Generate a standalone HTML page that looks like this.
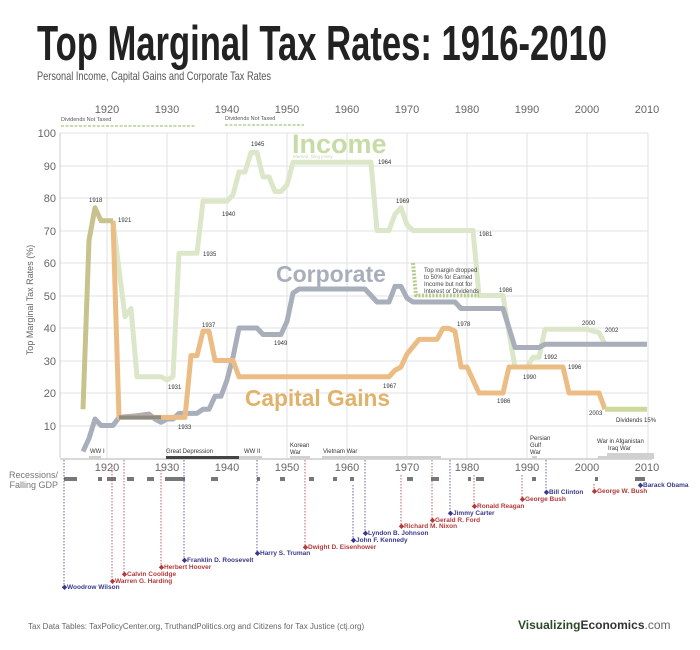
<!DOCTYPE html>
<html><head><meta charset="utf-8"><style>
body{margin:0;background:#fff}
svg{display:block;font-family:"Liberation Sans",sans-serif}
</style></head><body>
<svg width="700" height="650" viewBox="0 0 700 650" xmlns="http://www.w3.org/2000/svg">
<text x="37" y="60" font-family="Liberation Sans Narrow, Liberation Sans, sans-serif" font-weight="bold" font-size="49" fill="#222" textLength="570" lengthAdjust="spacingAndGlyphs">Top Marginal Tax Rates: 1916-2010</text>
<text x="37" y="80" font-family="Liberation Sans Narrow, Liberation Sans, sans-serif" font-size="12" fill="#555" textLength="234" lengthAdjust="spacingAndGlyphs">Personal Income, Capital Gains and Corporate Tax Rates</text>

<g stroke="#e2e2e2" stroke-width="1">
<line x1="60" y1="133" x2="648" y2="133"/><line x1="60" y1="166" x2="648" y2="166"/><line x1="60" y1="198" x2="648" y2="198"/><line x1="60" y1="231" x2="648" y2="231"/><line x1="60" y1="263" x2="648" y2="263"/><line x1="60" y1="296" x2="648" y2="296"/><line x1="60" y1="328" x2="648" y2="328"/><line x1="60" y1="361" x2="648" y2="361"/><line x1="60" y1="393" x2="648" y2="393"/><line x1="60" y1="426" x2="648" y2="426"/>
<line x1="107" y1="133" x2="107" y2="458"/><line x1="167" y1="133" x2="167" y2="458"/><line x1="227" y1="133" x2="227" y2="458"/><line x1="287" y1="133" x2="287" y2="458"/><line x1="347" y1="133" x2="347" y2="458"/><line x1="407" y1="133" x2="407" y2="458"/><line x1="467" y1="133" x2="467" y2="458"/><line x1="527" y1="133" x2="527" y2="458"/><line x1="587" y1="133" x2="587" y2="458"/><line x1="648" y1="133" x2="648" y2="458"/>
<line x1="60" y1="133" x2="60" y2="458" stroke="#ccc"/>
</g>
<line x1="60" y1="459" x2="652" y2="459" stroke="#ccc" stroke-width="1.5"/>

<g font-size="11" fill="#666" text-anchor="end">
<text x="56" y="137">100</text><text x="56" y="170">90</text><text x="56" y="202">80</text><text x="56" y="235">70</text><text x="56" y="267">60</text><text x="56" y="300">50</text><text x="56" y="332">40</text><text x="56" y="365">30</text><text x="56" y="397">20</text><text x="56" y="430">10</text>
</g>
<text transform="translate(33,300) rotate(-90)" font-size="9" fill="#666" text-anchor="middle">Top Marginal Tax Rates (%)</text>
<g font-size="11" fill="#666" text-anchor="middle">
<text x="107" y="113">1920</text><text x="167" y="113">1930</text><text x="227" y="113">1940</text><text x="287" y="113">1950</text><text x="347" y="113">1960</text><text x="407" y="113">1970</text><text x="467" y="113">1980</text><text x="527" y="113">1990</text><text x="587" y="113">2000</text><text x="647" y="113">2010</text>
<text x="107" y="471">1920</text><text x="167" y="471">1930</text><text x="227" y="471">1940</text><text x="287" y="471">1950</text><text x="347" y="471">1960</text><text x="407" y="471">1970</text><text x="467" y="471">1980</text><text x="527" y="471">1990</text><text x="587" y="471">2000</text><text x="647" y="471">2010</text>
</g>

<g font-size="5.5" fill="#555"><text x="61" y="121">Dividends Not Taxed</text><text x="225" y="120">Dividends Not Taxed</text></g>
<g stroke="#b9cf8f" stroke-width="1.5" stroke-dasharray="3,1.5"><line x1="61" y1="126" x2="196" y2="126"/><line x1="225" y1="125" x2="304" y2="125"/></g>

<g fill="none" stroke-linejoin="round" transform="translate(-11413,458) scale(6,-3.25)">
<polyline vector-effect="non-scaling-stroke" stroke="#dbe7c8" stroke-width="5" points="1921,73 1922,58 1923,43.5 1924,46 1925,25 1929,25 1930,24 1931,25 1932,63 1935,63 1936,79 1940,79 1941,81 1942,88 1943,88 1944,94 1945,94 1946,86.5 1947,86.5 1948,82 1949,82 1950,84 1951,91 1964,91 1965,70 1967,70 1968,75 1969,77 1970,71.75 1971,70 1981,70 1982,50 1986,50 1987,38.5 1988,28 1990,28 1991,31 1992,31 1993,39.6 2000,39.6 2001,39.1 2002,38.6 2003,35 2010,35"/>
<polyline vector-effect="non-scaling-stroke" stroke="#a9aebb" stroke-width="5" points="1916,2 1917,6 1918,12 1919,10 1921,10 1922,12.5 1925,13 1927,13.5 1928,12 1929,11 1930,12 1931,12 1932,13.75 1935,13.75 1936,15 1937,15 1938,19 1939,19 1940,24 1941,31 1942,40 1945,40 1946,38 1949,38 1950,42 1951,50.75 1952,52 1963,52 1964,50 1965,48 1967,48 1968,52.8 1969,52.8 1970,49.2 1971,48 1978,48 1979,46 1986,46 1987,40 1988,34 1992,34 1993,35 2010,35"/>
<polyline vector-effect="non-scaling-stroke" stroke="#ebbd85" stroke-width="5" points="1921,73 1922,12.5 1933,12.5 1934,31.5 1935,31.5 1936,39 1937,39 1938,30 1941,30 1942,25 1967,25 1968,27 1969,28 1970,32 1972,36.5 1975,36.5 1976,39.9 1977,39.9 1978,39 1979,28 1980,28 1982,20 1986,20 1987,28 1996,28 1997,20 2002,20 2003,15"/>
<polyline vector-effect="non-scaling-stroke" stroke="#cdd99a" stroke-width="5" points="2003,15 2010,15"/>
<polyline vector-effect="non-scaling-stroke" stroke="#c8c28d" stroke-width="5" points="1916,15 1917,67 1918,77 1919,73 1921,73"/>
<polyline vector-effect="non-scaling-stroke" stroke="#8a8d86" stroke-width="4" points="1922,12.5 1929,12.5"/>
<polyline vector-effect="non-scaling-stroke" stroke="#b5cc8f" stroke-width="4" stroke-dasharray="2,1.5" points="1971,60 1971.5,50 1982,50"/>
</g>
<text font-size="6" fill="#444"><tspan x="424" y="272">Top margin dropped</tspan><tspan x="424" y="279">to 50% for Earned</tspan><tspan x="424" y="286">Income but not for</tspan><tspan x="424" y="293">Interest or Dividends</tspan></text>

<text x="292" y="153" font-size="27" font-weight="bold" fill="#c6dba6">Income</text>
<text x="293" y="158" font-size="4.5" fill="#c6dba6">Married, filing jointly</text>
<text x="276" y="282" font-size="23" font-weight="bold" fill="#a9aebb">Corporate</text>
<text x="245" y="406" font-size="23" font-weight="bold" fill="#e0b26a" textLength="145" lengthAdjust="spacingAndGlyphs">Capital Gains</text>

<g font-size="6" fill="#333">
<text x="89" y="202">1918</text><text x="118" y="222">1921</text><text x="251" y="146">1945</text><text x="222" y="216">1940</text><text x="203" y="256">1935</text><text x="378" y="164">1964</text><text x="396" y="203">1969</text><text x="479" y="236">1981</text><text x="499" y="292">1986</text>
<text x="202" y="327">1937</text><text x="168" y="389">1931</text><text x="178" y="429">1933</text><text x="274" y="345">1949</text><text x="383" y="388">1967</text><text x="457" y="326">1978</text><text x="497" y="403">1986</text><text x="523" y="379">1990</text><text x="544" y="359">1992</text><text x="568" y="369">1996</text><text x="582" y="325">2000</text><text x="605" y="332">2002</text><text x="589" y="415">2003</text><text x="616" y="422">Dividends 15%</text>
</g>

<g fill="#d0d0d0"><rect x="89" y="456" width="12" height="3"/><rect x="239" y="456" width="23" height="3"/><rect x="290" y="456" width="20" height="3"/><rect x="322" y="456" width="119" height="3"/><rect x="532" y="456" width="5" height="3"/><rect x="598" y="456" width="56" height="3"/><rect x="607" y="453" width="47" height="3"/></g>
<rect x="166" y="456" width="73" height="3" fill="#444"/>
<g font-size="6" fill="#333">
<text x="90" y="453">WW I</text><text x="166" y="453">Great Depression</text><text x="244" y="453">WW II</text><text x="290" y="447">Korean</text><text x="290" y="454">War</text><text x="323" y="453">Vietnam War</text><text x="530" y="440">Persian</text><text x="530" y="447">Gulf</text><text x="530" y="454">War</text><text x="597" y="443">War in Afganistan</text><text x="608" y="450">Iraq War</text>
</g>

<text x="58" y="478" font-size="9" fill="#777" text-anchor="end">Recessions/</text>
<text x="58" y="488" font-size="9" fill="#777" text-anchor="end">Falling GDP</text>
<g fill="#777">
<rect x="64" y="477" width="13" height="4"/><rect x="98" y="477" width="4" height="4"/><rect x="107" y="477" width="9" height="4"/><rect x="127" y="477" width="7" height="4"/><rect x="147" y="477" width="7" height="4"/><rect x="165" y="477" width="20" height="4"/><rect x="211" y="477" width="7" height="4"/><rect x="257" y="477" width="3" height="4"/><rect x="280" y="477" width="5" height="4"/><rect x="309" y="477" width="5" height="4"/><rect x="333" y="477" width="4" height="4"/><rect x="350" y="477" width="4" height="4"/><rect x="407" y="477" width="6" height="4"/><rect x="431" y="477" width="8" height="4"/><rect x="468" y="477" width="3" height="4"/><rect x="476" y="477" width="8" height="4"/><rect x="532" y="477" width="4" height="4"/><rect x="595" y="477" width="3" height="4"/><rect x="635" y="477" width="10" height="4"/>
</g>

<g font-size="6.5" font-weight="bold" stroke-width="0.8" stroke-dasharray="1.5,1.5">
<g stroke="#3a3a8c" fill="#3a3a8c">
<line x1="64" y1="460" x2="64" y2="587"/><line x1="184" y1="460" x2="184" y2="560"/><line x1="257" y1="460" x2="257" y2="553"/><line x1="353" y1="485" x2="353" y2="540"/><line x1="365" y1="460" x2="365" y2="533"/><line x1="450" y1="460" x2="450" y2="513"/><line x1="546" y1="460" x2="546" y2="492"/><line x1="640" y1="483" x2="640" y2="485"/>
</g>
<g stroke="#b33a3a" fill="#b33a3a">
<line x1="112" y1="465" x2="112" y2="581"/><line x1="124" y1="460" x2="124" y2="574"/><line x1="161" y1="470" x2="161" y2="567"/><line x1="305" y1="460" x2="305" y2="547"/><line x1="401" y1="475" x2="401" y2="526"/><line x1="432" y1="460" x2="432" y2="520"/><line x1="474" y1="475" x2="474" y2="506"/><line x1="522" y1="475" x2="522" y2="499"/><line x1="594" y1="484" x2="594" y2="491"/>
</g>
<g stroke="none" fill="#3a3a8c">
<text x="62" y="589">◆Woodrow Wilson</text><text x="182" y="562">◆Franklin D. Roosevelt</text><text x="255" y="555">◆Harry S. Truman</text><text x="351" y="542">◆John F. Kennedy</text><text x="363" y="535">◆Lyndon B. Johnson</text><text x="448" y="515">◆Jimmy Carter</text><text x="544" y="494">◆Bill Clinton</text><text x="638" y="487">◆Barack Obama</text>
</g>
<g stroke="none" fill="#b33a3a">
<text x="110" y="583">◆Warren G. Harding</text><text x="122" y="576">◆Calvin Coolidge</text><text x="159" y="569">◆Herbert Hoover</text><text x="303" y="549">◆Dwight D. Eisenhower</text><text x="399" y="528">◆Richard M. Nixon</text><text x="430" y="522">◆Gerald R. Ford</text><text x="472" y="508">◆Ronald Reagan</text><text x="520" y="501">◆George Bush</text><text x="592" y="493">◆George W. Bush</text>
</g>
</g>

<text x="28" y="629" font-size="8" fill="#666">Tax Data Tables:  TaxPolicyCenter.org, TruthandPolitics.org and Citizens for Tax Justice (ctj.org)</text>
<text x="518" y="629" font-size="12"><tspan font-weight="bold" fill="#2e4a2a">Visualizing</tspan><tspan font-weight="bold" fill="#333">Economics</tspan><tspan fill="#666">.com</tspan></text>
</svg>
</body></html>
